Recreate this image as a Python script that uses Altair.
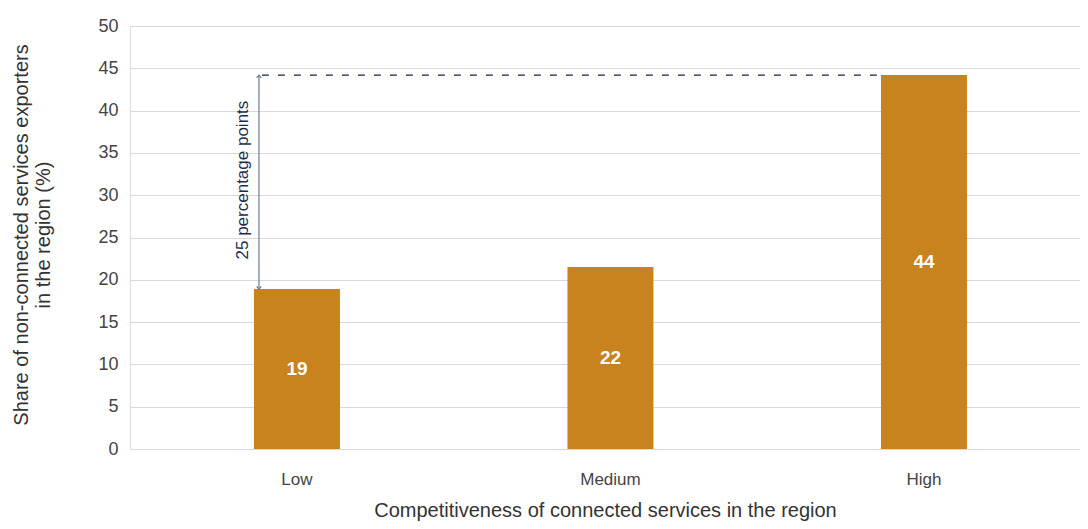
import altair as alt
import pandas as pd

categories = ["Low", "Medium", "High"]
values = [18.9, 21.5, 44.2]
labels = ["19", "22", "44"]
y_ticks = [0, 5, 10, 15, 20, 25, 30, 35, 40, 45, 50]
gap_low = 18.9
gap_high = 44.2
gap_text = "25 percentage points"

df = pd.DataFrame({"cat": categories, "val": values, "lab": labels,
                   "mid": [v / 2 for v in values]})
ann = pd.DataFrame({"x1": ["Low"], "x2": ["High"], "lo": [gap_low], "hi": [gap_high],
                    "mid": [(gap_low + gap_high) / 2], "txt": [gap_text]})

FONT = "Liberation Sans"
xscale = alt.Scale(domain=categories, paddingInner=0.7257, paddingOuter=0.378, align=0.523)
yscale = alt.Scale(domain=[0, 50], nice=False)

xenc = alt.X("cat:N", scale=xscale, sort=categories,
             axis=alt.Axis(title="Competitiveness of connected services in the region",
                           labelAngle=0, domain=False, ticks=False, labelPadding=22,
                           labelFontSize=17, labelColor="#444444", labelFont=FONT,
                           titleFontSize=20, titleFont=FONT, titleFontWeight="normal",
                           titleColor="#333333", titleY=67, titleBaseline="alphabetic"))
yenc = alt.Y("val:Q", scale=yscale,
             axis=alt.Axis(title=["Share of non-connected services exporters", "in the region (%)"],
                           values=y_ticks, domain=False, ticks=False, labelPadding=12,
                           labelFontSize=18, labelColor="#444444", labelFont=FONT,
                           gridColor="#d9d9d9", gridWidth=1,
                           titleFontSize=20, titleFont=FONT, titleFontWeight="normal",
                           titleColor="#333333", titleX=-99, titleY=208.5,
                           titleAlign="center", titleLineHeight=22))

bars = alt.Chart(df).mark_bar(color="#C8821E").encode(x=xenc, y=yenc)

text = alt.Chart(df).mark_text(color="white", fontWeight="bold", fontSize=19, font=FONT,
                               baseline="middle").encode(
    x=alt.X("cat:N", scale=xscale, sort=categories), y=alt.Y("mid:Q", scale=yscale), text="lab:N")

dash = alt.Chart(ann).mark_rule(color="#15234a", strokeDash=[7, 9], strokeWidth=1.2,
                                xOffset=-35, x2Offset=-44).encode(
    x=alt.X("x1:N", scale=xscale, sort=categories), x2="x2:N",
    y=alt.Y("hi:Q", scale=yscale))

arrow = alt.Chart(ann).mark_rule(color="#6b7a8f", strokeWidth=1.2, xOffset=-38).encode(
    x=alt.X("x1:N", scale=xscale, sort=categories),
    y=alt.Y("lo:Q", scale=yscale), y2="hi:Q")

head_up = alt.Chart(ann).mark_point(shape="M-0.6,0.7L0,0L0.6,0.7", filled=False, size=60,
                                    color="#6b7a8f", strokeWidth=1.2, xOffset=-38, opacity=1).encode(
    x=alt.X("x1:N", scale=xscale, sort=categories), y=alt.Y("hi:Q", scale=yscale))
head_down = alt.Chart(ann).mark_point(shape="M-0.6,-0.7L0,0L0.6,-0.7", filled=False, size=60,
                                      color="#6b7a8f", strokeWidth=1.2, xOffset=-38, opacity=1).encode(
    x=alt.X("x1:N", scale=xscale, sort=categories), y=alt.Y("lo:Q", scale=yscale))

gtext = alt.Chart(ann).mark_text(angle=270, color="#1f2d4d", fontSize=17, font=FONT,
                                 align="center", baseline="middle", xOffset=-54, yOffset=-2).encode(
    x=alt.X("x1:N", scale=xscale, sort=categories), y=alt.Y("mid:Q", scale=yscale), text="txt:N")

chart = alt.layer(bars, text, dash, arrow, head_up, head_down, gtext).properties(
    width=950, height=423,
    autosize=alt.AutoSizeParams(type="none"),
    padding={"left": 122, "top": 18, "right": 0, "bottom": 72},
).configure_view(stroke=None).configure(background="white")

chart.save("out.html", embed_options={"renderer": "svg", "actions": False})
